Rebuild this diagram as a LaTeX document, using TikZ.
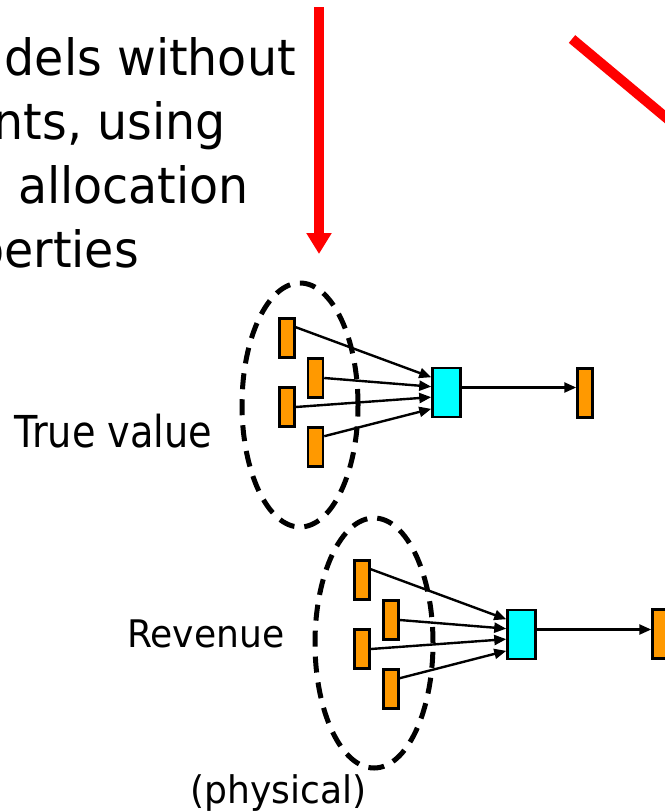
\documentclass[tikz,border=0pt]{standalone}
\usepackage{fontspec}
\newfontfamily\slidefont{DejaVu Sans}[FakeStretch=0.95]
\newfontfamily\slidenarrow{DejaVu Sans}[FakeStretch=0.87]
\usetikzlibrary{arrows.meta,shapes.geometric}
\definecolor{leaforange}{RGB}{255,153,0}
\definecolor{sumcyan}{RGB}{0,255,255}

\begin{document}
\begin{tikzpicture}[x=1pt,y=-1pt,
    leafbox/.style={draw=black, line width=2.5pt, fill=leaforange, minimum width=15pt, minimum height=39pt, inner sep=0pt},
    outbox/.style={leafbox, minimum height=49pt},
    sumbox/.style={draw=black, line width=2.5pt, fill=sumcyan, minimum width=28pt, minimum height=49pt, inner sep=0pt},
    feedline/.style={-{Triangle[length=12pt,width=10pt]}, line width=2.4pt},
    groupring/.style={ellipse, draw=black, line width=5pt, dash pattern=on 16pt off 10pt, inner sep=0pt},
    slidetext/.style={inner sep=0pt, font=\slidefont\fontsize{50}{60}\selectfont},
    sidetext/.style={inner sep=0pt, font=\slidefont\fontsize{38}{44}\selectfont}]
    \useasboundingbox (0,0) rectangle (664,811);

    % bullet text, cut off at the left edge
    \node[slidetext, anchor=base east] (line1) at (296,75) {dels without};
    \node[slidetext, anchor=base east] (line2) at (226,139) {nts, using};
    \node[slidetext, anchor=base east] (line3) at (249,203) {allocation};
    \node[slidetext, anchor=base east] (line4) at (139,267) {perties};

    % red pointers
    \coordinate (downtop) at (319,7);
    \coordinate (downtip) at (319,254);
    \draw[red, line width=10pt, -{Triangle[length=21pt,width=24pt]}] (downtop) -- (downtip);
    \coordinate (slanttop) at (572,39);
    \coordinate (slantend) at (700,146);
    \draw[red, line width=10pt] (slanttop) -- (slantend);

    % true value cluster
    \node[groupring, minimum width=116pt, minimum height=244pt] (tvring) at (300,405) {};
    \node[leafbox] (tv1) at (287,338) {};
    \node[leafbox] (tv2) at (315.5,378) {};
    \node[leafbox] (tv3) at (287,407) {};
    \node[leafbox] (tv4) at (315.5,447) {};
    \node[sumbox] (tvsum) at (446.5,392.5) {};
    \node[outbox] (tvout) at (585,393) {};
    \draw[feedline] (tv1.51) -- (tvsum.135);
    \draw[feedline] (tv2.east) -- (tvsum.159);
    \draw[feedline] (tv3.east) -- (tvsum.197);
    \draw[feedline] (tv4.51) -- (tvsum.227);
    \draw[feedline] ([yshift=5pt]tvsum.east) -- ([yshift=5pt]tvsum.east -| tvout.west);
    \node[inner sep=0pt, anchor=base west, font=\slidenarrow\fontsize{44}{50}\selectfont] (tvlabel) at (14,447) {True value};

    % revenue cluster
    \node[groupring, minimum width=118pt, minimum height=250pt] (rvring) at (374,643) {};
    \node[leafbox] (rv1) at (362,580) {};
    \node[leafbox] (rv2) at (391,620) {};
    \node[leafbox] (rv3) at (362,649) {};
    \node[leafbox] (rv4) at (391,689) {};
    \node[sumbox] (rvsum) at (521.5,634.5) {};
    \node[outbox] (rvout) at (660,634) {};
    \draw[feedline] (rv1.51) -- (rvsum.135);
    \draw[feedline] (rv2.east) -- (rvsum.159);
    \draw[feedline] (rv3.east) -- (rvsum.197);
    \draw[feedline] (rv4.51) -- (rvsum.227);
    \draw[feedline] ([yshift=5pt]rvsum.east) -- ([yshift=5pt]rvsum.east -| rvout.west);
    \node[sidetext, anchor=base west] (rvlabel) at (127,647) {Revenue};
    \node[sidetext, anchor=base west] (rvnote) at (190,803) {(physical)};
\end{tikzpicture}
\end{document}
